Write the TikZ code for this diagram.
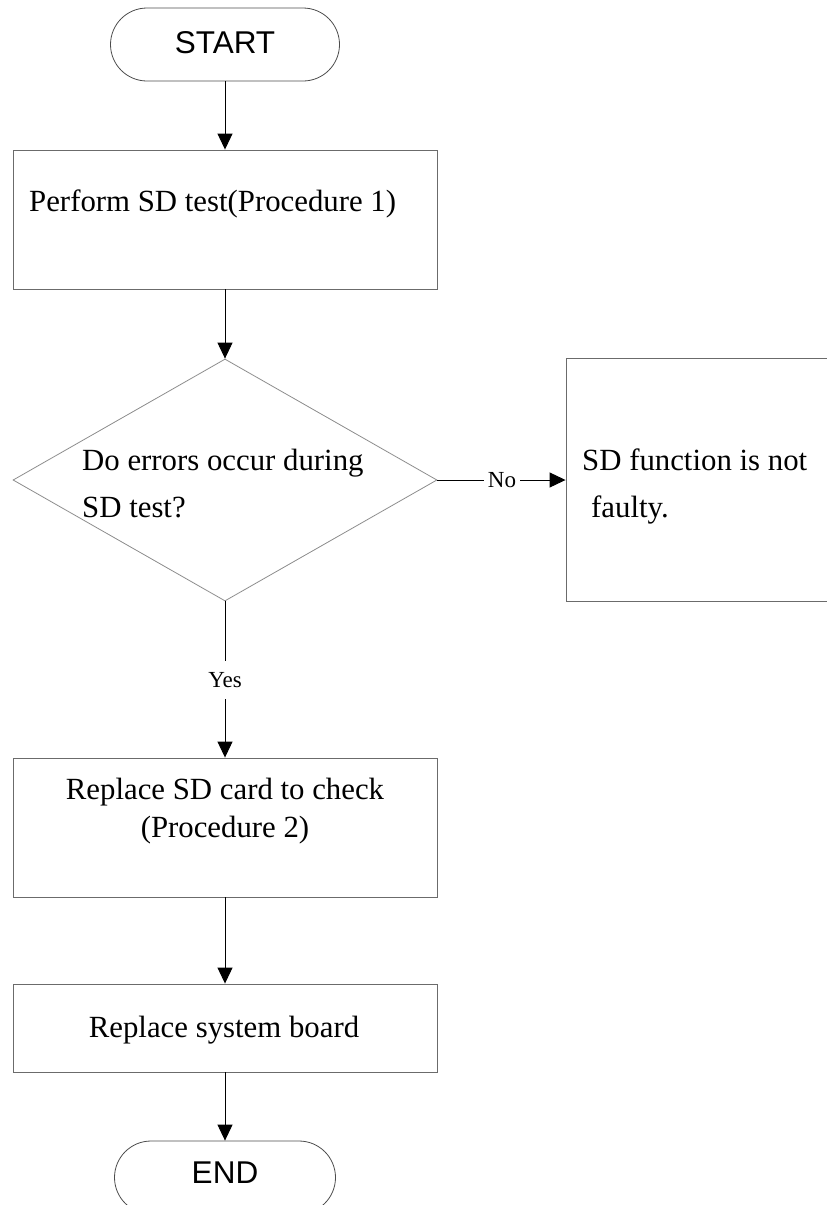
\documentclass[tikz,border=0pt]{standalone}
\usepackage{fontspec}
\setmainfont{Liberation Serif}
\newfontfamily\termfont{Liberation Sans}
\usetikzlibrary{arrows.meta,shapes.geometric}

\begin{document}
\begin{tikzpicture}[x=1pt,y=-1pt,
  procbox/.style={rectangle, draw=black!58, line width=0.9pt, inner sep=0pt},
  terminal/.style={rectangle, draw=black!70, line width=0.8pt, rounded corners=36.5pt,
                   minimum height=73pt, inner sep=0pt},
  decision/.style={diamond, draw=black!45, line width=0.8pt, inner sep=0pt,
                   minimum width=424pt, minimum height=242pt},
  bodytext/.style={font=\fontsize{30.8}{36}\selectfont, inner sep=0pt},
  termtext/.style={font=\termfont\fontsize{31.5}{36}\selectfont, inner sep=0pt},
  branchtext/.style={font=\fontsize{23}{27}\selectfont, inner ysep=0pt, inner xsep=4pt},
  flowline/.style={draw=black, line width=1pt},
  flow/.style={flowline, -{Triangle[length=16pt,width=15pt]}}]

  % page frame
  \useasboundingbox (0,0) rectangle (827,1205);

  % terminals
  \node[terminal, minimum width=229pt] (start) at (225,44.5) {};
  \node[termtext] (starttxt) at (225,42.5) {START};
  \node[terminal, minimum width=221pt] (finish) at (225,1177.5) {};
  \node[termtext] (finishtxt) at (225,1172.5) {END};

  % process boxes
  \node[procbox, minimum width=424pt, minimum height=139pt] (test) at (225,219.5) {};
  \node[bodytext, anchor=base west] (testtxt) at (29,211) {Perform SD test(Procedure 1)};

  \node[procbox, minimum width=284pt, minimum height=243pt] (ok) at (708,480) {};
  \node[bodytext, anchor=base west] (oktxta) at (582,470) {SD function is not};
  \node[bodytext, anchor=base west] (oktxtb) at (591,517) {faulty.};

  \node[procbox, minimum width=424pt, minimum height=139pt] (card) at (225,827.5) {};
  \node[bodytext, anchor=base] (cardtxta) at (225,799) {Replace SD card to check};
  \node[bodytext, anchor=base] (cardtxtb) at (225,837) {(Procedure 2)};

  \node[procbox, minimum width=424pt, minimum height=88pt] (board) at (225,1028) {};
  \node[bodytext, anchor=base] (boardtxt) at (224,1037) {Replace system board};

  % decision
  \node[decision] (dec) at (225,480) {};
  \node[bodytext, anchor=base west] (dectxta) at (82,470) {Do errors occur during};
  \node[bodytext, anchor=base west] (dectxtb) at (82,517) {SD test?};

  % branch labels
  \node[branchtext] (no) at (502,480) {No};
  \node[branchtext, minimum height=38pt] (yes) at (225,680) {Yes};

  % connectors
  \draw[flow] (start) -- (test);
  \draw[flow] (test) -- (dec);
  \draw[flowline] (dec.east) -- (no.west);
  \draw[flow] (no.east) -- (ok.west);
  \draw[flowline] (dec.south) -- (yes.north);
  \draw[flow] (yes.south) -- (card.north);
  \draw[flow] (card) -- (board);
  \draw[flow] (board) -- (finish);
\end{tikzpicture}
\end{document}
